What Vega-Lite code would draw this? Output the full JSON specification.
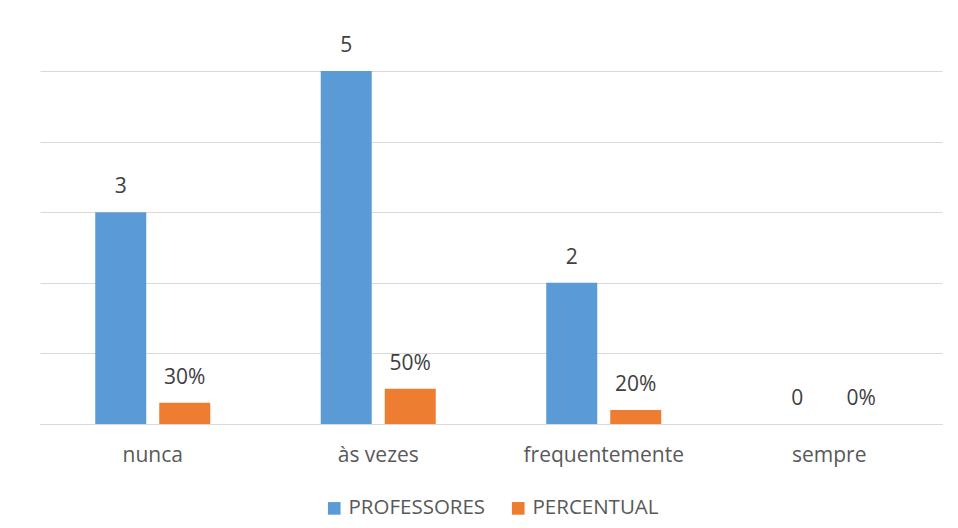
{
  "$schema": "https://vega.github.io/schema/vega-lite/v6.json",
  "width": 902,
  "height": 353,
  "autosize": {"type": "none"},
  "padding": {"left": 40, "top": 71, "right": 16, "bottom": 104},
  "background": "white",
  "config": {
    "view": {"stroke": null},
    "font": "Open Sans"
  },
  "data": {
    "values": [
      {"categoria": "nunca", "serie": "PROFESSORES", "valor": 3, "rotulo": "3"},
      {"categoria": "nunca", "serie": "PERCENTUAL", "valor": 0.3, "rotulo": "30%"},
      {"categoria": "às vezes", "serie": "PROFESSORES", "valor": 5, "rotulo": "5"},
      {"categoria": "às vezes", "serie": "PERCENTUAL", "valor": 0.5, "rotulo": "50%"},
      {"categoria": "frequentemente", "serie": "PROFESSORES", "valor": 2, "rotulo": "2"},
      {"categoria": "frequentemente", "serie": "PERCENTUAL", "valor": 0.2, "rotulo": "20%"},
      {"categoria": "sempre", "serie": "PROFESSORES", "valor": 0, "rotulo": "0"},
      {"categoria": "sempre", "serie": "PERCENTUAL", "valor": 0, "rotulo": "0%"}
    ]
  },
  "encoding": {
    "x": {
      "field": "categoria",
      "type": "nominal",
      "sort": ["nunca", "às vezes", "frequentemente", "sempre"],
      "scale": {"paddingInner": 0, "paddingOuter": 0},
      "axis": {
        "title": null,
        "labelAngle": 0,
        "ticks": false,
        "domainColor": "#D9D9D9",
        "domainWidth": 1,
        "labelFontSize": 21,
        "labelColor": "#595959",
        "labelPadding": 20,
        "labelFont": "Open Sans"
      }
    },
    "xOffset": {
      "field": "serie",
      "type": "nominal",
      "sort": ["PROFESSORES", "PERCENTUAL"],
      "scale": {"paddingInner": 0.203, "paddingOuter": 0.863}
    },
    "y": {
      "field": "valor",
      "type": "quantitative",
      "scale": {"domain": [0, 5], "nice": false},
      "axis": {
        "title": null,
        "labels": false,
        "ticks": false,
        "domain": false,
        "tickCount": 5,
        "gridColor": "#D9D9D9",
        "gridWidth": 1
      }
    }
  },
  "layer": [
    {
      "mark": {"type": "bar"},
      "encoding": {
        "color": {
          "field": "serie",
          "type": "nominal",
          "sort": ["PROFESSORES", "PERCENTUAL"],
          "scale": {"domain": ["PROFESSORES", "PERCENTUAL"], "range": ["#5B9BD5", "#ED7D31"]},
          "legend": {
            "title": null,
            "orient": "none",
            "direction": "horizontal",
            "legendX": 284,
            "legendY": 427,
            "symbolType": "square",
            "symbolSize": 160,
            "symbolStrokeWidth": 0,
            "labelFontSize": 20.5,
            "labelColor": "#595959",
            "labelFont": "Open Sans",
            "columnPadding": 22,
            "labelOffset": 4
          }
        }
      }
    },
    {
      "mark": {"type": "text", "baseline": "middle", "dy": -25, "fontSize": 21, "color": "#404040", "font": "Open Sans"},
      "encoding": {
        "text": {"field": "rotulo"}
      }
    }
  ]
}
